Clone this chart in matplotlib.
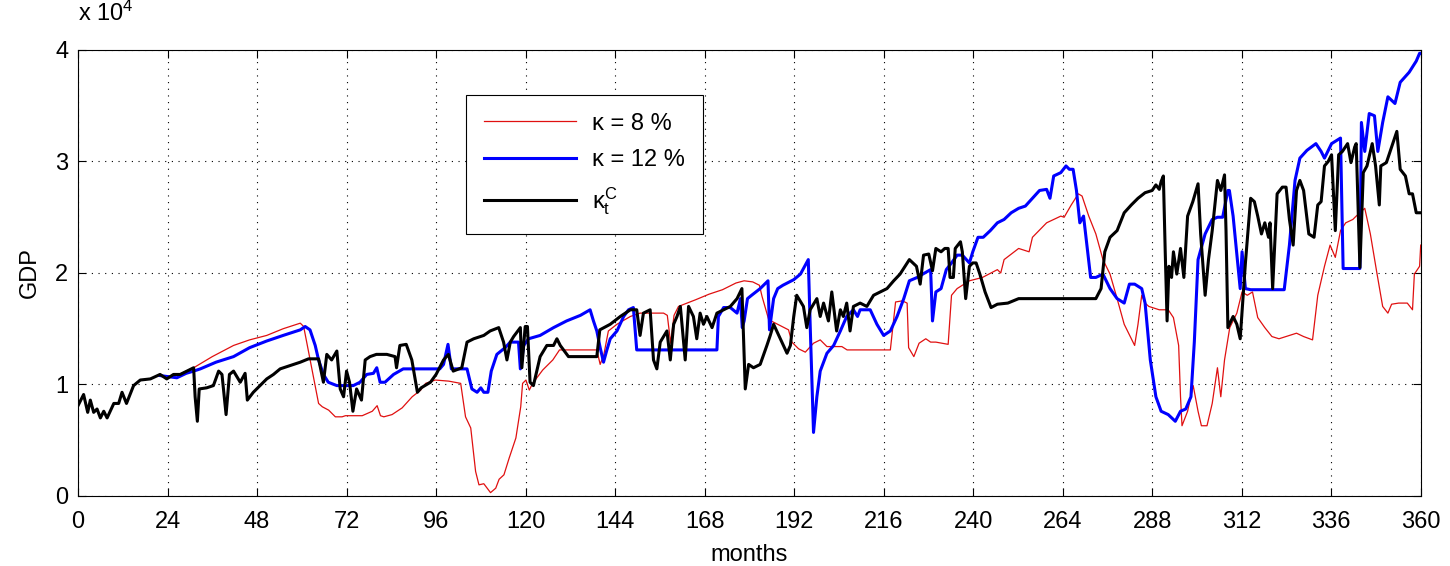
import matplotlib
matplotlib.use("Agg")
import matplotlib.pyplot as plt

plt.rcParams['font.family'] = ['Liberation Sans', 'DejaVu Sans']
plt.rcParams['mathtext.fontset'] = 'custom'
plt.rcParams['mathtext.rm'] = 'Liberation Sans'
plt.rcParams['mathtext.it'] = 'Liberation Sans'

# GDP in units of 10^4 (month, value)
months_8 = [24, 27, 29, 31, 36, 41.7, 46, 50.6, 55, 59.6, 60.5, 64.5, 65.5, 67.2, 69, 70.8, 71.7, 76.2,
            78.9, 80.2, 81.1, 82, 84.2, 86.9, 89.6, 91.9, 93.2, 95.8, 99.4, 102.6, 103.9, 105.3, 106.6,
            107.5, 108.8, 109.7, 110.6, 112, 112.9, 114.2, 115.6, 117.4, 118.7, 119.2, 120.1, 121, 121.9,
            124.6, 127.3, 129.1, 133.5, 137.6, 139.1, 140, 141, 142.2, 144.5, 148.1, 150.7, 154.3, 157,
            158, 158.9, 159.8, 161, 165.6, 169.2, 172.8, 176.4, 178.6, 180.9, 182.7, 183.4, 185.2, 187,
            190.5, 191.4, 193.2, 195, 197.2, 199, 200.8, 204.8, 206.2, 211.1, 217.8, 219.2, 221, 222.3,
            222.7, 224.1, 225.5, 227.3, 228.6, 230, 233.3, 234.2, 235.7, 239, 242.5, 246.5, 247.4, 248.3,
            252.2, 255, 255.9, 259.7, 263.5, 264.4, 266.3, 268.2, 269.2, 271, 272.9, 274.8, 276.7, 278.6,
            280.5, 282.4, 283.3, 284.2, 285.2, 286.1, 287.1, 289.9, 292.3, 293.7, 295.1, 295.6, 296, 297.5,
            299, 300.3, 301.2, 302.7, 304.1, 305.5, 306.4, 307.4, 308.8, 310.7, 312.1, 313.5, 314.9, 316.3,
            318.2, 320.1, 322, 323.9, 326.7, 328.6, 331, 332.4, 334.2, 335.7, 337.1, 338.5, 339.9, 341.8,
            342.7, 345, 346.5, 348.3, 349.8, 351.2, 352.2, 354.1, 356.4, 357.8, 358.3, 359.7, 360]
gdp_8 = [1.06, 1.09, 1.12, 1.15, 1.25, 1.35, 1.40, 1.44, 1.50, 1.55, 1.52, 0.83, 0.80, 0.77, 0.71, 0.71, 0.72, 0.72,
         0.76, 0.81, 0.72, 0.71, 0.73, 0.79, 0.89, 0.95, 1.01, 1.04, 1.03, 1.01, 0.71, 0.61, 0.22,
         0.10, 0.11, 0.07, 0.03, 0.07, 0.15, 0.19, 0.34, 0.52, 0.80, 1.01, 1.04, 0.95, 1.01,
         1.13, 1.22, 1.31, 1.31, 1.31, 1.31, 1.18, 1.27, 1.48, 1.54, 1.61, 1.64, 1.64, 1.64,
         1.62, 1.37, 1.62, 1.70, 1.76, 1.81, 1.85, 1.91, 1.93, 1.92, 1.89, 1.79, 1.58, 1.55,
         1.49, 1.38, 1.32, 1.29, 1.37, 1.40, 1.34, 1.34, 1.31, 1.31, 1.31, 1.74, 1.75, 1.73,
         1.33, 1.25, 1.37, 1.41, 1.38, 1.38, 1.36, 1.80, 1.86, 1.93, 1.96, 2.03, 2.00, 2.12,
         2.22, 2.19, 2.32, 2.45, 2.51, 2.50, 2.61, 2.71, 2.69, 2.51, 2.35, 2.12, 1.99, 1.77,
         1.54, 1.41, 1.35, 1.54, 1.80, 1.73, 1.70, 1.67, 1.67, 1.60, 1.35, 0.89, 0.63, 0.76,
         0.99, 0.76, 0.63, 0.63, 0.83, 1.15, 0.89, 1.22, 1.51, 1.64, 1.83, 1.80, 1.83, 1.60,
         1.51, 1.43, 1.41, 1.43, 1.46, 1.43, 1.40, 1.80, 2.06, 2.25, 2.14, 2.38, 2.45, 2.48,
         2.51, 2.58, 2.35, 1.99, 1.70, 1.64, 1.72, 1.73, 1.73, 1.67, 1.99, 2.06, 2.25]

months_12 = [22, 26.5, 29, 31, 32.8, 37, 41.7, 46, 50.6, 55, 59.6, 60.9, 62.2, 63.6, 64.5, 65.8, 67.1, 69.4, 72,
             73.8, 75.6, 77.4, 79.2, 80.1, 81, 82.3, 84.6, 87.2, 97, 98, 99.2, 100.1, 104.3, 105.6, 107, 108,
             108.8, 109.9, 110.8, 112.3, 114.5, 115.9, 118.1, 118.6, 119.5, 120.8, 123.9, 127.5, 131, 134.7,
             137.3, 138.2, 139.1, 140, 140.9, 141.8, 142.7, 144.5, 146.3, 147.6, 148.9, 149.8, 171.3, 171.7,
             173.1, 174.9, 176.7, 177.6, 178.1, 178.6, 179.5, 180.6, 182.9, 185, 185.4, 186.5, 187.6, 189,
             191.9, 193.7, 195.8, 196.3, 197.2, 198.1, 199, 200.8, 202.6, 204.4, 206.1, 207.9, 209, 209.7,
             212.4, 214.2, 216, 217.8, 219.6, 221.4, 222.9, 225, 227, 228.6, 229.1, 230, 231.4, 232.8, 234.2,
             235.7, 237.1, 239, 239.9, 241.3, 242.7, 244.6, 246.5, 248.3, 250.2, 252.2, 254, 255.9, 257.8,
             259.7, 260.6, 261.6, 263.5, 264.9, 265.8, 266.8, 267.7, 268.6, 269.6, 271.5, 272.9, 274.8, 276.7,
             278.6, 280.5, 281.9, 283.3, 285.2, 286.1, 287.5, 289, 290.4, 292.3, 294.2, 295.6, 297, 298.4,
             299.3, 300.3, 302.2, 304.1, 305.5, 306.9, 308.3, 308.7, 309.7, 311.6, 312.1, 313, 314.4, 323.4,
             324.8, 326.3, 327.6, 329.5, 331.9, 333.3, 334.2, 336.1, 338.5, 339.2, 343.7, 344.1, 345, 346.2,
             347.6, 348.5, 349.8, 351.2, 353.1, 354.5, 356.9, 358.8, 359.7, 360]
gdp_12 = [1.08, 1.06, 1.10, 1.12, 1.14, 1.20, 1.25, 1.33, 1.39, 1.44, 1.49, 1.52, 1.49, 1.35, 1.22, 1.09, 1.02, 0.99, 0.99,
          0.99, 1.02, 1.09, 1.10, 1.15, 1.02, 1.02, 1.09, 1.14, 1.14, 1.18, 1.36, 1.14, 1.14, 0.96, 0.93, 0.97,
          0.93, 0.93, 1.12, 1.27, 1.33, 1.38, 1.38, 1.14, 1.35, 1.41, 1.44, 1.51, 1.57, 1.62,
          1.67, 1.57, 1.48, 1.33, 1.20, 1.31, 1.41, 1.48, 1.61, 1.67, 1.69, 1.31, 1.31, 1.61,
          1.69, 1.69, 1.64, 1.77, 1.51, 1.57, 1.77, 1.80, 1.86, 1.93, 1.49, 1.77, 1.86, 1.89,
          1.94, 1.99, 2.12, 1.54, 0.57, 0.89, 1.12, 1.28, 1.35, 1.48, 1.61, 1.67, 1.61, 1.67,
          1.67, 1.54, 1.44, 1.48, 1.61, 1.77, 1.93, 1.96, 2.00, 2.03, 1.57, 1.83, 1.86, 2.03, 2.09,
          2.16, 2.16, 2.09, 2.19, 2.32, 2.32, 2.38, 2.45, 2.48, 2.54, 2.58, 2.60, 2.67, 2.74,
          2.75, 2.67, 2.87, 2.90, 2.96, 2.93, 2.93, 2.74, 2.45, 2.51, 1.96, 1.96, 1.99, 1.86,
          1.77, 1.73, 1.90, 1.90, 1.86, 1.73, 1.22, 0.89, 0.76, 0.73, 0.67, 0.76, 0.78, 0.89,
          1.38, 2.12, 2.35, 2.48, 2.50, 2.50, 2.74, 2.74, 2.51, 1.86, 2.19, 1.86, 1.85, 1.85,
          2.25, 2.83, 3.03, 3.10, 3.16, 3.09, 3.03, 3.16, 3.21, 2.04, 2.04, 3.35, 3.09, 3.43,
          3.41, 3.09, 3.35, 3.58, 3.52, 3.71, 3.80, 3.90, 3.97, 3.97]

months_c = [0, 1.5, 2.6, 3.3, 4.2, 5.1, 6, 6.9, 7.8, 9.6, 10.9, 11.8, 13, 14.9, 16.7, 19.4, 22, 23.8, 25.6, 27.4,
            29.2, 31, 31.4, 32, 32.5, 34.5, 36.3, 37.7, 38.6, 39.7, 40.6, 41.7, 43.5, 44.8, 45.4, 47, 48.8,
            50.6, 52.4, 54.2, 56.9, 59.6, 61.8, 64.5, 65.8, 66.7, 68, 69.4, 70.3, 71.2, 72, 72.8, 73.7, 74.7,
            76, 77, 78.3, 80, 82.8, 85, 85.4, 86.3, 88, 89.5, 91, 92, 94.5, 96, 98, 99.3, 100.6, 102.9, 104.3,
            106.1, 108.8, 110.5, 112.8, 114.1, 115, 115.9, 116.8, 118.6, 119, 119.9, 120.5, 121.2, 122.1,
            123.9, 125.7, 127.5, 128.4, 129.3, 131.5, 134.7, 139.1, 139.9, 142.7, 145.4, 148.1, 149.8, 150.7,
            151.6, 153.4, 154.3, 155.2, 156.1, 157.9, 158.8, 159.7, 160.6, 161.5, 162.8, 163.7, 165, 165.9,
            166.8, 167.7, 168.6, 170, 171.3, 173.1, 174.9, 176.7, 178, 178.9, 179.8, 181.1, 182.9, 184.7,
            185.6, 186.5, 188.3, 190.1, 191, 191.9, 192.7, 194.5, 195.4, 196.3, 198.1, 199, 199.9, 201.2,
            202.1, 203.4, 204.4, 205.2, 206.1, 207, 207.9, 209.7, 211.5, 213.3, 215.1, 216.9, 218.7, 220.4,
            222.9, 224.8, 225.8, 226.7, 228.1, 229.1, 230, 231.4, 232.4, 233.3, 233.8, 234.7, 235.2, 236.6,
            237.1, 238, 239, 239.9, 240.8, 241.8, 243.2, 244.8, 246.5, 249.3, 252.2, 255.9, 264.4, 272.9,
            274.3, 275.3, 276.7, 278.6, 280.5, 282.4, 284.2, 286.1, 288, 289, 289.9, 290.4, 291, 291.5, 292,
            292.5, 293.2, 293.7, 294.6, 295.6, 296.5, 297.5, 298.9, 300.3, 301, 302.2, 303.1, 304.1, 305.5,
            306.4, 307.4, 307.8, 308.3, 309.7, 310.7, 311.6, 313, 314.4, 315.4, 316.3, 317.3, 318.2, 319.2,
            319.6, 320.3, 321.5, 322.9, 323.9, 324.8, 325.8, 326.7, 327.6, 328.6, 330, 331.4, 332.4, 333.3,
            334.2, 335.2, 336.1, 337.1, 338, 339, 340.4, 341.3, 342.3, 342.7, 343.7, 344.6, 345.6, 347,
            347.9, 348.9, 349.3, 350.8, 352.2, 353.6, 354.5, 355.9, 356.9, 357.8, 358.8, 360]
gdp_c = [0.81, 0.91, 0.75, 0.86, 0.75, 0.78, 0.70, 0.76, 0.70, 0.83, 0.83, 0.93, 0.83, 0.99, 1.04, 1.05, 1.09, 1.05, 1.09, 1.09,
         1.12, 1.15, 0.89, 0.67, 0.96, 0.97, 0.99, 1.12, 1.09, 0.73, 1.09, 1.12, 1.02, 1.10, 0.86, 0.93, 0.99,
         1.05, 1.09, 1.14, 1.17, 1.20, 1.23, 1.23, 1.02, 1.27, 1.22, 1.30, 0.96, 0.89, 1.12, 1.02, 0.76, 0.96,
         0.86, 1.22, 1.25, 1.27, 1.27, 1.25, 1.15, 1.35, 1.36, 1.22, 0.93, 0.97, 1.02, 1.09, 1.22, 1.27, 1.12, 1.15, 1.38,
         1.41, 1.44, 1.48, 1.51, 1.38, 1.22, 1.38, 1.43, 1.51, 1.15, 1.52, 1.52, 1.02, 0.99,
         1.25, 1.35, 1.35, 1.41, 1.35, 1.25, 1.25, 1.25, 1.49, 1.54, 1.61, 1.67, 1.67, 1.44,
         1.64, 1.67, 1.22, 1.14, 1.38, 1.48, 1.22, 1.54, 1.61, 1.70, 1.22, 1.70, 1.61, 1.41,
         1.64, 1.54, 1.61, 1.51, 1.64, 1.67, 1.70, 1.77, 1.86, 0.96, 1.18, 1.15, 1.18, 1.35,
         1.44, 1.54, 1.41, 1.28, 1.35, 1.61, 1.80, 1.70, 1.51, 1.67, 1.77, 1.61, 1.73, 1.57,
         1.83, 1.48, 1.67, 1.61, 1.73, 1.48, 1.70, 1.73, 1.70, 1.80, 1.83, 1.86, 1.93, 1.99,
         2.12, 2.06, 1.90, 2.16, 2.17, 2.02, 2.22, 2.19, 2.22, 2.22, 1.96, 1.96, 2.22, 2.28,
         2.19, 1.77, 2.06, 2.09, 2.09, 1.99, 1.83, 1.69, 1.72, 1.73, 1.77, 1.77, 1.77, 1.77,
         1.86, 2.19, 2.32, 2.38, 2.54, 2.61, 2.67, 2.72, 2.74, 2.79, 2.75, 2.82, 2.87, 2.19, 1.57,
         2.06, 1.96, 2.19, 1.99, 2.22, 1.96, 2.51, 2.64, 2.80, 2.35, 1.80, 2.12, 2.38, 2.83,
         2.74, 2.88, 2.38, 1.51, 1.61, 1.54, 1.41, 2.09, 2.67, 2.64, 2.51, 2.35, 2.45, 2.32,
         2.45, 1.86, 2.71, 2.77, 2.77, 2.48, 2.25, 2.74, 2.83, 2.74, 2.35, 2.32, 2.61, 2.64,
         2.96, 3.00, 3.06, 2.38, 3.06, 3.09, 3.16, 2.99, 3.13, 3.16, 2.05, 2.90, 2.96, 3.16,
         2.96, 2.61, 2.96, 2.99, 3.13, 3.27, 2.93, 2.87, 2.71, 2.71, 2.54, 2.54]

x_ticks = list(range(0, 361, 24))
y_ticks = [0, 1, 2, 3, 4]
labels = ['\u03ba = 8 %', '\u03ba = 12 %', r'$\kappa_t^C$']

fig = plt.figure(figsize=(14.5, 5.66), dpi=100)
ax = fig.add_axes([0.0538, 0.1237, 0.926, 0.788])

ax.plot(months_8, gdp_8, color='#e01010', lw=0.9, label=labels[0])
ax.plot(months_12, gdp_12, color='#0000ff', lw=2.2, label=labels[1])
ax.plot(months_c, gdp_c, color='black', lw=2.2, label=labels[2])

ax.set_xlim(0, 360)
ax.set_ylim(0, 4)
ax.set_xticks(x_ticks)
ax.set_yticks(y_ticks)
ax.tick_params(direction='in', length=6, top=True, right=True, labelsize=17, width=0.8)
ax.tick_params(axis='x', pad=11)
ax.tick_params(axis='y', pad=7)
ax.grid(True, linestyle=(0, (1, 5)), color='black', linewidth=0.8)
for s in ax.spines.values():
    s.set_linewidth(0.8)

ax.set_xlabel('months', fontsize=17, labelpad=8)
ax.set_ylabel('GDP', fontsize=17, labelpad=10)
ax.text(0.0, 1.055, r'x 10$^4$', transform=ax.transAxes, fontsize=17, ha='left', va='bottom')

leg = ax.legend(loc='upper left', bbox_to_anchor=(0.289, 0.899), fontsize=17, frameon=True,
                fancybox=False, edgecolor='black', framealpha=1, borderaxespad=0,
                handlelength=3.9, handletextpad=0.7, labelspacing=0.6, borderpad=0.75)
leg.get_frame().set_linewidth(0.8)

fig.savefig('out.png', dpi=100)
